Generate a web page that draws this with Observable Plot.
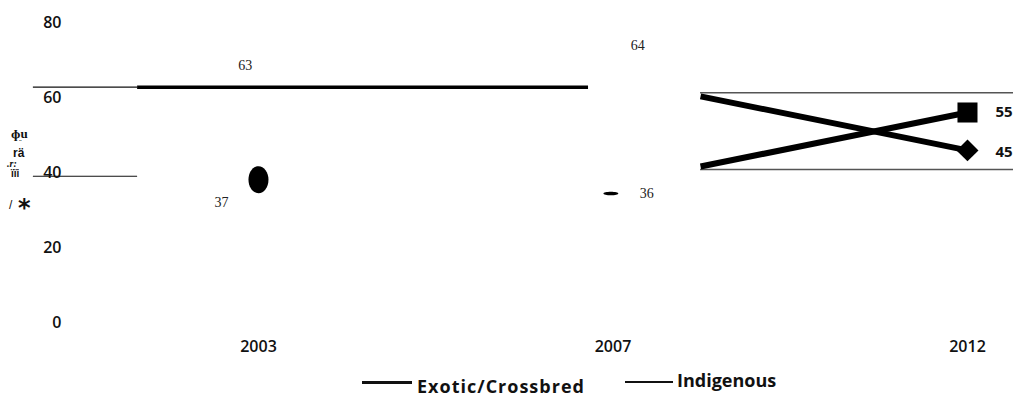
<!DOCTYPE html>
<html>
<head>
<meta charset="utf-8">
<script src="https://cdn.jsdelivr.net/npm/d3@7"></script>
<script src="https://cdn.jsdelivr.net/npm/@observablehq/plot@0.6"></script>
<style>
  body { margin: 0; background: #fff; }
  #wrap { position: relative; width: 1013px; height: 414px; overflow: hidden; font-family: "Open Sans", sans-serif; }
  .g { position: absolute; color: #111; line-height: 1; white-space: nowrap; }
  .leg { position: absolute; font-weight: 700; font-size: 18px; color: #111; line-height: 1; white-space: nowrap; }
  .legline { position: absolute; background: #111; }
</style>
</head>
<body>
<div id="wrap"></div>
<script>
// ---- data ----
const years = ["2003", "2007", "2012"];
const yTicks = [0, 20, 40, 60, 80];
const exoticLabels = [63, 64, 55];
const indigenousLabels = [37, 36, 45];

// segments as drawn (x in year-index units, y in percent)
const thinRules = [
  {v: 62.75, x1: -0.635, x2: -0.341},
  {v: 39.0, x1: -0.635, x2: -0.341}
];
const thickRules = [{v: 62.75, x1: -0.341, x2: 0.931}];
const boxRules = [
  {v: 61.3, x1: 1.247, x2: 2.13},
  {v: 40.8, x1: 1.247, x2: 2.13}
];
const crossLines = [
  {x1: 1.247, y1: 60.3, x2: 2, y2: 45.9},
  {x1: 1.247, y1: 41.6, x2: 2, y2: 56.0}
];
const blobs = [
  {x: 0, v: 38.1, rx: 10, ry: 13.5},
  {x: 0.994, v: 34.4, rx: 7.5, ry: 1.8}
];
const endSquare = [{x: 2, v: 56.0}];
const endDiamond = [{x: 2, v: 45.9}];
const serifLabels = [
  {x: -0.037, v: 68.5, t: exoticLabels[0]},
  {x: -0.104, v: 32.0, t: indigenousLabels[0]},
  {x: 1.07, v: 73.9, t: exoticLabels[1]},
  {x: 1.095, v: 34.4, t: indigenousLabels[1]}
];
const endLabels = [
  {x: 2.079, v: 56.0, t: exoticLabels[2]},
  {x: 2.079, v: 45.3, t: indigenousLabels[2]}
];

function ellipseSymbol(rx, ry) {
  const k = 0.5523;
  return {
    draw(ctx) {
      ctx.moveTo(rx, 0);
      ctx.bezierCurveTo(rx, k * ry, k * rx, ry, 0, ry);
      ctx.bezierCurveTo(-k * rx, ry, -rx, k * ry, -rx, 0);
      ctx.bezierCurveTo(-rx, -k * ry, -k * rx, -ry, 0, -ry);
      ctx.bezierCurveTo(k * rx, -ry, rx, -k * ry, rx, 0);
      ctx.closePath();
    }
  };
}

const chart = Plot.plot({
  width: 1013,
  height: 360,
  marginLeft: 70,
  marginRight: 0,
  marginTop: 22,
  marginBottom: 38,
  style: {fontFamily: "Open Sans", fontSize: "16px", fontWeight: 600, color: "#111", background: "#fff", overflow: "visible"},
  x: {type: "linear", domain: [-0.5303, 2.1298]},
  y: {domain: [0, 80]},
  marks: [
    Plot.axisY({ticks: yTicks, tickSize: 0, tickPadding: 9, label: null}),
    Plot.axisX({ticks: [0, 1, 2], tickFormat: i => years[i], tickSize: 0, tickPadding: 18, label: null}),
    Plot.ruleY(thinRules, {y: "v", x1: "x1", x2: "x2", stroke: "#111", strokeWidth: 1.2}),
    Plot.ruleY(thickRules, {y: "v", x1: "x1", x2: "x2", stroke: "#000", strokeWidth: 3.5}),
    Plot.ruleY(boxRules, {y: "v", x1: "x1", x2: "x2", stroke: "#555", strokeWidth: 1.5}),
    Plot.link(crossLines, {x1: "x1", y1: "y1", x2: "x2", y2: "y2", stroke: "#000", strokeWidth: 6}),
    ...blobs.map(b => Plot.dot([b], {x: "x", y: "v", symbol: ellipseSymbol(b.rx, b.ry), fill: "#000", stroke: "none"})),
    Plot.dot(endSquare, {x: "x", y: "v", symbol: "square", r: 11.3, fill: "#000"}),
    Plot.dot(endDiamond, {x: "x", y: "v", symbol: "diamond2", r: 9.9, fill: "#000"}),
    Plot.text(serifLabels, {x: "x", y: "v", text: "t", fontFamily: "Liberation Serif", fontSize: 14, fontWeight: 400, fill: "#222"}),
    Plot.text(endLabels, {x: "x", y: "v", text: "t", textAnchor: "start", fontFamily: "Open Sans", fontSize: 15, fontWeight: 700, fill: "#111"})
  ]
});

const wrap = document.getElementById("wrap");
wrap.appendChild(chart);

// garbled vertical axis title as it appears
const glyphs = [
  {t: "ɸu", x: 11, y: 127, s: 13, w: 700, f: "Liberation Serif"},
  {t: "¨", x: 19, y: 140, s: 8, w: 700, f: "Liberation Serif"},
  {t: "rä", x: 13, y: 147, s: 12, w: 700, f: "Liberation Sans Narrow, Liberation Sans"},
  {t: ".r:", x: 7, y: 159, s: 10, w: 700, f: "Liberation Serif", i: true},
  {t: "ïïi", x: 11, y: 169, s: 10, w: 700, f: "Liberation Sans Narrow, Liberation Sans"},
  {t: "/", x: 9, y: 199, s: 12, w: 400, f: "Liberation Sans"},
  {t: "*", x: 18, y: 196, s: 24, w: 700, f: "DejaVu Sans"}
];
glyphs.forEach(g => {
  const d = document.createElement("div");
  d.className = "g";
  d.textContent = g.t;
  d.style.left = g.x + "px";
  d.style.top = g.y + "px";
  d.style.fontSize = g.s + "px";
  d.style.fontWeight = g.w;
  d.style.fontFamily = g.f;
  if (g.i) d.style.fontStyle = "italic";
  wrap.appendChild(d);
});

// legend
const legendItems = [
  {label: "Exotic/Crossbred", lx: 362, lw: 50, ly: 381, lh: 3, tx: 417, ty: 377, ls: 1},
  {label: "Indigenous", lx: 625, lw: 48, ly: 381, lh: 2, tx: 677, ty: 371, ls: 0}
];
legendItems.forEach(it => {
  const l = document.createElement("div");
  l.className = "legline";
  l.style.left = it.lx + "px"; l.style.top = it.ly + "px";
  l.style.width = it.lw + "px"; l.style.height = it.lh + "px";
  wrap.appendChild(l);
  const t = document.createElement("div");
  t.className = "leg";
  t.textContent = it.label;
  t.style.left = it.tx + "px"; t.style.top = it.ty + "px";
  t.style.letterSpacing = it.ls + "px";
  wrap.appendChild(t);
});
</script>
</body>
</html>
